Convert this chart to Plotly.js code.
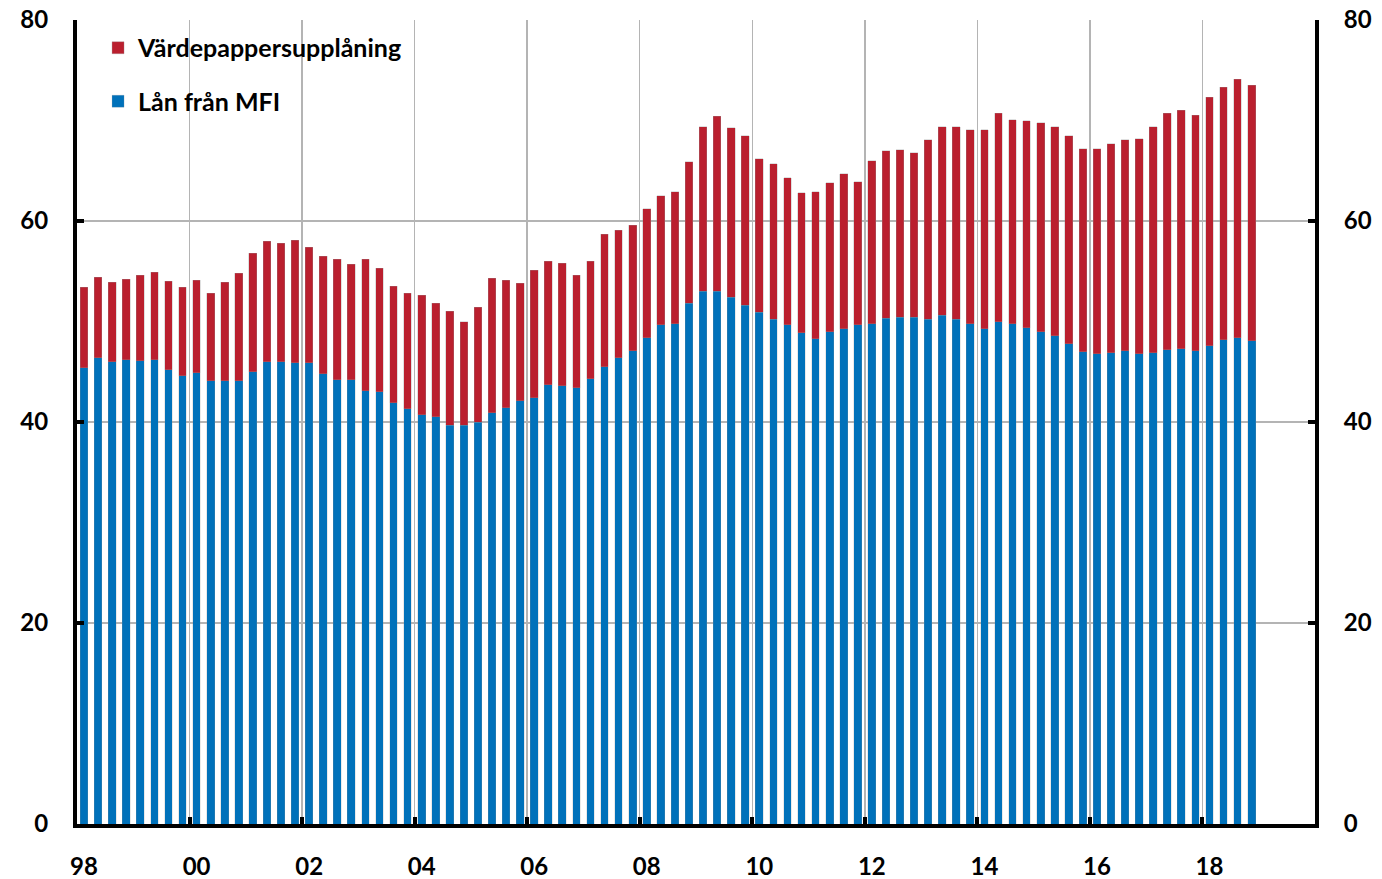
<!DOCTYPE html>
<html>
<head>
<meta charset="utf-8">
<script src="https://cdn.plot.ly/plotly-3.0.1.min.js"></script>
<style>
html,body{margin:0;padding:0;background:#fff;}
#chart{width:1382px;height:879px;}
</style>
</head>
<body>
<div id="chart"></div>
<script>
// Quarterly, 1998 Q1 – 2018 Q4 (index 0 = 1998 Q1)
const quarters = Array.from({length: 84}, (_, i) => i);

const lanFranMFI = [
  45.4, 46.4, 46.0, 46.2, 46.1, 46.2, 45.2, 44.6,
  44.9, 44.1, 44.1, 44.1, 45.0, 46.0, 46.0, 45.9,
  45.9, 44.8, 44.2, 44.2, 43.1, 43.0, 41.9, 41.3,
  40.7, 40.5, 39.7, 39.7, 40.0, 40.9, 41.4, 42.1,
  42.4, 43.7, 43.6, 43.4, 44.3, 45.5, 46.4, 47.1,
  48.4, 49.7, 49.8, 51.8, 53.0, 53.0, 52.4, 51.6,
  50.9, 50.2, 49.7, 48.9, 48.3, 49.0, 49.3, 49.7,
  49.8, 50.3, 50.4, 50.4, 50.2, 50.6, 50.2, 49.8,
  49.3, 50.0, 49.8, 49.4, 49.0, 48.6, 47.8, 47.0,
  46.8, 46.9, 47.1, 46.8, 46.9, 47.2, 47.3, 47.1,
  47.6, 48.2, 48.4, 48.1
];

const vardepappersupplaning = [
   8.0,  8.0,  7.9,  8.0,  8.5,  8.7,  8.8,  8.8,
   9.2,  8.7,  9.8, 10.7, 11.8, 12.0, 11.8, 12.2,
  11.5, 11.7, 12.0, 11.5, 13.1, 12.3, 11.6, 11.5,
  11.9, 11.3, 11.3, 10.3, 11.4, 13.4, 12.7, 11.7,
  12.7, 12.3, 12.2, 11.2, 11.7, 13.2, 12.7, 12.5,
  12.8, 12.8, 13.1, 14.1, 16.4, 17.4, 16.9, 16.9,
  15.3, 15.5, 14.6, 13.9, 14.6, 14.8, 15.4, 14.2,
  16.2, 16.7, 16.7, 16.4, 17.9, 18.8, 19.2, 19.3,
  19.8, 20.7, 20.3, 20.6, 20.8, 20.8, 20.7, 20.2,
  20.4, 20.8, 21.0, 21.4, 22.5, 23.5, 23.7, 23.4,
  24.7, 25.1, 25.7, 25.4
];

const yearTickVals = [0, 8, 16, 24, 32, 40, 48, 56, 64, 72, 80];
const yearTickText = ['98', '00', '02', '04', '06', '08', '10', '12', '14', '16', '18'];
const yearBoundaries = [7.5, 15.5, 23.5, 31.5, 39.5, 47.5, 55.5, 63.5, 71.5, 79.5];
const yTickVals = [0, 20, 40, 60, 80];

const FONT = 'Lato, "Open Sans", "DejaVu Sans", sans-serif';
const GRID = '#b4b4b4';

const traces = [
  {
    type: 'bar', name: 'Lån från MFI', x: quarters, y: lanFranMFI,
    marker: {color: '#0071BA', line: {color: 'rgba(150,150,150,0.35)', width: 0.6}},
    legendgroup: 'g2', legendrank: 2, hoverinfo: 'x+y+name'
  },
  {
    type: 'bar', name: 'Värdepappersupplåning', x: quarters, y: vardepappersupplaning,
    marker: {color: '#BA1F2E', line: {color: 'rgba(150,150,150,0.5)', width: 0.6}},
    legendgroup: 'g1', legendrank: 1, hoverinfo: 'x+y+name'
  },
  {
    type: 'scatter', mode: 'markers', x: [], y: [], xaxis: 'x2', yaxis: 'y2',
    showlegend: false, hoverinfo: 'skip'
  }
];

const layout = {
  width: 1382, height: 879,
  margin: {l: 77, r: 67, t: 20, b: 55},
  paper_bgcolor: '#fff', plot_bgcolor: '#fff',
  barmode: 'stack', bargap: 0.45,
  font: {family: FONT, color: '#000', size: 24, weight: 'bold'},
  showlegend: true,
  legend: {
    x: 0.0170, y: 0.9938, xanchor: 'left', yanchor: 'top',
    traceorder: 'grouped', tracegroupgap: 18,
    font: {family: FONT, size: 25, color: '#000', weight: 'bold'},
    bgcolor: 'rgba(0,0,0,0)', borderwidth: 0, itemwidth: 30
  },
  xaxis: {
    range: [-0.5, 87.5], tickmode: 'array', tickvals: yearTickVals, ticktext: yearTickText,
    ticks: '', showgrid: false, zeroline: false,
    showline: true, linecolor: '#000', linewidth: 4,
    tickfont: {family: FONT, size: 24, color: '#000', weight: 'bold'},
    ticklabelstandoff: 18, fixedrange: true
  },
  xaxis2: {
    overlaying: 'x', anchor: 'y2', side: 'bottom',
    range: [-0.5, 87.5], tickmode: 'array', tickvals: yearBoundaries,
    ticks: 'inside', ticklen: 7, tickwidth: 4, tickcolor: '#000',
    showticklabels: false, showgrid: true, gridcolor: GRID, gridwidth: 1.5,
    zeroline: false, showline: false, fixedrange: true
  },
  yaxis: {
    range: [0, 80], tickmode: 'array', tickvals: yTickVals,
    ticks: 'inside', ticklen: 7, tickwidth: 4, tickcolor: '#000',
    showgrid: true, gridcolor: GRID, gridwidth: 1.5, zeroline: false,
    showline: true, linecolor: '#000', linewidth: 4,
    tickfont: {family: FONT, size: 24, color: '#000', weight: 'bold'},
    ticklabelstandoff: 20, fixedrange: true
  },
  yaxis2: {
    overlaying: 'y', side: 'right', anchor: 'x2',
    range: [0, 80], tickmode: 'array', tickvals: yTickVals,
    ticks: 'inside', ticklen: 7, tickwidth: 4, tickcolor: '#000',
    showgrid: false, zeroline: false,
    showline: true, linecolor: '#000', linewidth: 4,
    tickfont: {family: FONT, size: 24, color: '#000', weight: 'bold'},
    ticklabelstandoff: 20, fixedrange: true
  }
};

Plotly.newPlot('chart', traces, layout, {displayModeBar: false, staticPlot: true});
</script>
</body>
</html>
